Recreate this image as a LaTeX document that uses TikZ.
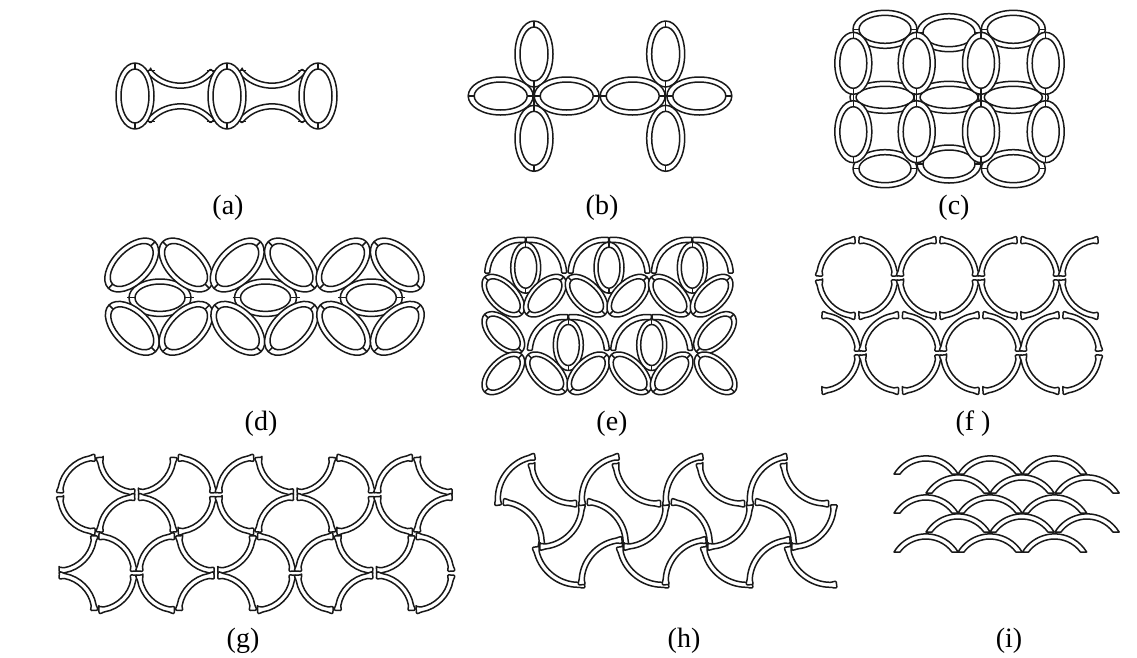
\documentclass[tikz,border=0pt]{standalone}
\usepackage{fontspec}
\setmainfont{Liberation Serif}

\newcommand{\ovalline}[6][5]{
  \begin{scope}[shift={({#2},{-(#3)})},rotate=#6]
    \draw[ringline] (0,0) ellipse ({#4} and {#5});
    \draw[ringline] (0,0) ellipse ({#4-#1-1} and {#5-#1});
  \end{scope}
}
\newcommand{\ovalring}[6][5]{
  \ovalline[#1]{#2}{#3}{#4}{#5}{#6}
  \begin{scope}[shift={({#2},{-(#3)})},rotate=#6]
    \draw[ringline] ({-(#4)},0) -- ({-(#4)+#1+1},0) ({#4},0) -- ({#4-#1-1},0);
  \end{scope}
}
\newcommand{\ringband}[6]{
  \draw[ringline,rounded corners=0.9pt,shift={({#1},{-(#2)})}] ({#4}:{#3-2.5-#6}) -- ({#4}:{#3+2.5+#6})
    arc[start angle=#4,end angle=#4+3,radius=#3+2.5+#6] -- ({#4+7}:{#3+2.5})
    arc[start angle=#4+7,end angle=#5-7,radius=#3+2.5] -- ({#5-3}:{#3+2.5+#6})
    arc[start angle=#5-3,end angle=#5,radius=#3+2.5+#6] -- ({#5}:{#3-2.5-#6})
    arc[start angle=#5,end angle=#5-3,radius=#3-2.5-#6] -- ({#5-7}:{#3-2.5})
    arc[start angle=#5-7,end angle=#4+7,radius=#3-2.5] -- ({#4+3}:{#3-2.5-#6})
    arc[start angle=#4+3,end angle=#4,radius=#3-2.5-#6] -- cycle;
}
\newcommand{\capband}[2]{
  \draw[ringline,shift={({#1},{-(#2)})}] (-32,0)
    arc[start angle=149,end angle=31,radius=37.4] -- (25.9,0)
    arc[start angle=36.8,end angle=143.2,radius=32.4] -- cycle;
}

\begin{document}
\begin{tikzpicture}[x=1pt,y=1pt,
    ringline/.style={draw=black!90,fill=white,line width=1.5pt,line join=round},
    tag/.style={font=\fontsize{28}{30}\selectfont,inner sep=0pt}]
  \useasboundingbox (0,0) rectangle (1137,-657);

  %(a)
  \foreach \x in {180.5,272}{
    \ringband{\x}{44}{41.5}{220}{320}{0}
    \ringband{\x}{148}{41.5}{40}{140}{0}
    \draw[ringline] (\x-34,-70.5) -- (\x-26,-70.5) (\x+26,-70.5) -- (\x+34,-70.5);
    \draw[ringline] (\x-34,-121.5) -- (\x-26,-121.5) (\x+26,-121.5) -- (\x+34,-121.5);
  }
  \foreach \x in {135,227,318}{
    \ovalring{\x}{96}{33}{19}{90}
  }

  %(b)
  \foreach \x in {534,665.7}{
    \ovalring{\x}{54}{33}{19}{90}
    \ovalring{\x}{138.3}{33}{19}{90}
    \draw[ringline] (\x,-84) -- (\x,-108) (\x-8,-96) -- (\x+8,-96);
  }
  \foreach \x in {500.7,566.7,632.7,699.3}{
    \ovalring{\x}{96}{32.5}{19}{0}
  }
  \draw[ringline] (594,-96) -- (606,-96);

  %(c)
  \foreach \x/\y in {885/29.3,949/32.7,1013.3/29.3,885/168.7,949/164,1013.3/168.7}{
    \ovalring{\x}{\y}{32}{19}{0}
  }
  \foreach \x in {885,949,1013.3}{
    \ovalline{\x}{97.3}{35}{16}{0}
  }
  \foreach \x in {853.3,916.7,981,1045.7}{
    \draw[ringline] (\x,-90) -- (\x,-105);
    \foreach \y in {63.3,131.7}{
      \ovalring{\x}{\y}{31}{18.5}{90}
    }
  }

  %(d)
  \foreach \x in {160,265.5,371.3}{
    \ovalring{\x}{297.7}{31}{18.7}{0}
    \draw[ringline] (\x-33,-297.7) -- (\x-31,-297.7) (\x+31,-297.7) -- (\x+34,-297.7);
    \ovalring{\x-28.3}{265}{33}{19}{45}
    \ovalring{\x+26}{265}{33}{19}{-45}
    \ovalring{\x-27.7}{328.3}{33}{19}{-45}
    \ovalring{\x+26}{328.3}{33}{19}{45}
  }

  %(e)
  \foreach \x in {525.7,609,692.3}{
    \ringband{\x-4}{274.3}{34.5}{84}{178}{0}
    \ringband{\x+4}{274.3}{34.5}{2}{96}{0}
    \ovalring[4]{\x}{267.7}{25.5}{15}{90}
    \ovalring[4]{\x-22.4}{295.7}{26.5}{14.5}{-45}
    \ovalring[4]{\x+19.3}{295.7}{26.5}{14.5}{45}
  }
  \foreach \x in {568.3,651.7}{
    \ringband{\x-4}{351.5}{34.5}{84}{178}{0}
    \ringband{\x+4}{351.5}{34.5}{2}{96}{0}
    \ovalring[4]{\x}{345}{25.5}{15}{90}
    \ovalring[4]{\x-21.6}{373.3}{26.5}{14.5}{-45}
    \ovalring[4]{\x+20}{373.3}{26.5}{14.5}{45}
  }
  \ovalring[4]{503.3}{333}{26.5}{14.5}{-45}
  \ovalring[4]{503.3}{373.3}{26.5}{14.5}{45}
  \ovalring[4]{715}{333}{26.5}{14.5}{45}
  \ovalring[4]{715.7}{373.3}{26.5}{14.5}{-45}

  %(f)
  \foreach \x/\ql in {857/{0,90,180,270},938/{0,90,180,270},1019/{0,90,180,270},1100/{90,180}}{
    \foreach \q in \ql{
      \ringband{\x}{278}{38}{\q+3}{\q+87}{1}
    }
  }
  \foreach \x/\ql in {820/{0,270},900.5/{0,90,180,270},981/{0,90,180,270},1061/{0,90,180,270}}{
    \foreach \q in \ql{
      \ringband{\x}{353}{38}{\q+3}{\q+87}{1}
    }
  }

  %(g)
  \foreach \i/\j/\ql in {1/1/{90,180},2/0/{180,270},2/2/{90,0},3/1/{0,270},
      5/1/{90,180},6/0/{180,270},6/2/{90,0},7/1/{0,270},
      9/1/{90,180},10/0/{180},10/2/{90},
      0/2/{270},0/4/{0},1/3/{0,270},3/3/{90,180},4/2/{180,270},4/4/{90,0},
      5/3/{0,270},7/3/{90,180},8/2/{180,270},8/4/{90,0},9/3/{0,270}}{
    \foreach \q in \ql{
      \ringband{57.3+39.67*\i}{455.5+39.2*\j}{37}{\q+3}{\q+87}{1}
    }
  }

  %(h)
  \foreach \k in {0,1,2,3}{
    \ringband{540.9+84*\k}{499.2}{43}{98}{188}{0.8}
    \ringband{574.4+84*\k}{460.6}{43}{184}{273}{0.8}
    \ringband{499.7+84*\k}{543.7}{42}{-4}{85}{0.8}
    \ringband{539.8+84*\k}{504.8}{42}{-90}{0}{0.8}
    \ringband{579.2+84*\k}{540.8}{44}{188}{277}{0.8}
  }
  \foreach \k in {0,1,2}{
    \ringband{624.2+84*\k}{582.5}{42.6}{93}{183}{0.8}
  }

  %(i)
  \foreach \y in {552,513,474}{
    \foreach \x in {926,990,1054.5}{
      \capband{\x}{\y}
    }
  }
  \foreach \y in {532,493}{
    \foreach \x in {958,1022,1087}{
      \capband{\x}{\y}
    }
  }

  \node[tag] (labela) at (228,-207.5) {(a)};
  \node[tag] (labelb) at (602,-207.5) {(b)};
  \node[tag] (labelc) at (954,-207.5) {(c)};
  \node[tag] (labeld) at (261,-423.5) {(d)};
  \node[tag] (labele) at (612,-423.5) {(e)};
  \node[tag] (labelf) at (973,-423.5) {(f )};
  \node[tag] (labelg) at (243,-641) {(g)};
  \node[tag] (labelh) at (684,-641) {(h)};
  \node[tag] (labeli) at (1009,-641) {(i)};
\end{tikzpicture}
\end{document}
